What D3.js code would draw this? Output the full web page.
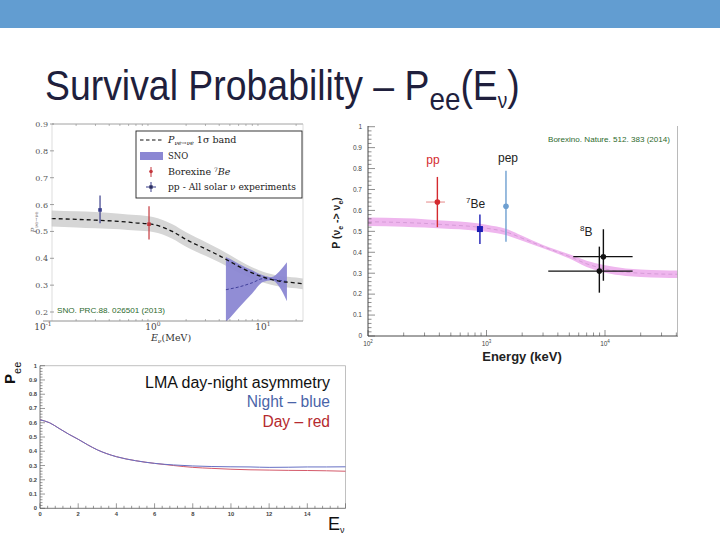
<!DOCTYPE html>
<html>
<head>
<meta charset="utf-8">
<script src="https://cdn.jsdelivr.net/npm/d3@7"></script>
<style>
body { margin: 0; background: #fff; }
svg { display: block; }
</style>
</head>
<body>
<script>
// ---- SNO panel (top left), energies in MeV ----
var bandE    = [0.12, 0.2, 0.3, 0.5, 0.7, 1, 1.5, 2, 3, 4, 5, 7, 10, 14, 20, 23];
var bandMid  = [0.548, 0.545, 0.542, 0.537, 0.532, 0.526, 0.500, 0.470, 0.435, 0.410, 0.388, 0.356, 0.330, 0.315, 0.308, 0.305];
var bandHalf = [0.030, 0.030, 0.030, 0.029, 0.029, 0.028, 0.027, 0.027, 0.026, 0.025, 0.024, 0.022, 0.020, 0.020, 0.020, 0.020];
var snoE      = [4.6, 5, 6, 8, 10, 12, 14, 16.5];
var snoUpper  = [0.405, 0.398, 0.380, 0.355, 0.337, 0.330, 0.350, 0.385];
var snoLower  = [0.163, 0.178, 0.215, 0.270, 0.312, 0.318, 0.295, 0.240];
var snoCenter = [0.283, 0.286, 0.293, 0.309, 0.324, 0.322, 0.318, 0.314];
var leftPoints = [
    { E: 0.33, P: 0.580, lo: 0.530, hi: 0.634, color: "#3b3f8c" },   // pp - all solar
    { E: 0.92, P: 0.527, lo: 0.470, hi: 0.594, color: "#c4373d" }    // Borexino 7Be
];
var leftYTicks = [0.2, 0.3, 0.4, 0.5, 0.6, 0.7, 0.8, 0.9];
var leftXTicks = [[0.1, "-1"], [1, "0"], [10, "1"]];

// ---- Borexino panel (top right), energies in keV ----
var pinkE    = [100, 200, 300, 500, 700, 1000, 1500, 2000, 3000, 5000, 7000, 10000, 15000, 20000, 30000, 41000];
var pinkMid  = [0.546, 0.542, 0.538, 0.530, 0.525, 0.515, 0.495, 0.467, 0.427, 0.380, 0.345, 0.320, 0.305, 0.300, 0.296, 0.295];
var pinkHalf = [0.020, 0.020, 0.020, 0.019, 0.018, 0.017, 0.015, 0.012, 0.008, 0.010, 0.015, 0.018, 0.018, 0.018, 0.018, 0.018];
var rightPoints = [
    { E: 385,  P: 0.640, lo: 0.520, hi: 0.760, xlo: 309,  xhi: 446,   color: "#d42a2f", xcolor: "#eba3a3", marker: "circle" },  // pp
    { E: 880,  P: 0.511, lo: 0.440, hi: 0.580, xlo: null, xhi: null,  color: "#1c1cb4", xcolor: null, marker: "square" },         // 7Be
    { E: 1460, P: 0.620, lo: 0.450, hi: 0.790, xlo: null, xhi: null,  color: "#6e9fd0", xcolor: null, marker: "circle" },         // pep
    { E: 8960, P: 0.310, lo: 0.207, hi: 0.427, xlo: 3320, xhi: 17100, color: "#111111", xcolor: "#111111", marker: "circle" },   // 8B
    { E: 9690, P: 0.379, lo: 0.264, hi: 0.510, xlo: 5400, xhi: 17100, color: "#111111", xcolor: "#111111", marker: "circle" }    // 8B
];
var rightYTicks = [0, 0.1, 0.2, 0.3, 0.4, 0.5, 0.6, 0.7, 0.8, 0.9, 1];
var rightYLabels = ["0", "0.1", "0.2", "0.3", "0.4", "0.5", "0.6", "0.7", "0.8", "0.9", "1"];
var rightXTicks = [[100, "2"], [1000, "3"], [10000, "4"]];

// ---- LMA day/night panel (bottom left), energies in MeV ----
var lmaE     = [0, 0.5, 1, 1.5, 2, 2.5, 3, 3.5, 4, 5, 6, 7, 8, 9, 10, 11, 12, 13, 14, 15, 16];
var lmaNight = [0.620, 0.600, 0.560, 0.520, 0.484, 0.445, 0.410, 0.383, 0.362, 0.334, 0.315, 0.304, 0.297, 0.293, 0.291, 0.290, 0.287, 0.288, 0.290, 0.290, 0.291];
var lmaDay   = [0.620, 0.600, 0.560, 0.520, 0.484, 0.445, 0.410, 0.383, 0.362, 0.334, 0.315, 0.300, 0.287, 0.280, 0.274, 0.270, 0.268, 0.266, 0.265, 0.263, 0.260];
var lmaYTicks = [0, 0.1, 0.2, 0.3, 0.4, 0.5, 0.6, 0.7, 0.8, 0.9, 1];
var lmaYLabels = ["0", "0.1", "0.2", "0.3", "0.4", "0.5", "0.6", "0.7", "0.8", "0.9", "1"];
var lmaXTicks = [0, 2, 4, 6, 8, 10, 12, 14];

var width = 720, height = 540;
var svg = d3.select("body").append("svg")
    .attr("width", width)
    .attr("height", height);

var SANS = "Liberation Sans, Arial, sans-serif";
var SERIF = "DejaVu Serif, Liberation Serif, serif";

// blue header bar
svg.append("rect").attr("x", 0).attr("y", 0).attr("width", width).attr("height", 28).attr("fill", "#629dd1");

// title
var title = svg.append("text")
    .attr("x", 0).attr("y", 100)
    .attr("font-family", SANS).attr("font-size", 43).attr("fill", "#1f1f3d");
title.append("tspan").text("Survival Probability – P");
title.append("tspan").attr("font-size", 32).attr("dy", 10).text("ee");
title.append("tspan").attr("dy", -10).text("(E");
title.append("tspan").attr("font-size", 22).attr("dy", 8).text("ν");
title.append("tspan").attr("dy", -8).text(")");
var tb = title.node().getBBox();
title.attr("transform", "translate(45,0) scale(" + (475 / tb.width) + ",1)");

// ================= SNO panel =================
var xL = d3.scaleLog().domain([0.1, 10]).range([43, 263]);
var yL = d3.scaleLinear().domain([0.2, 0.9]).range([312, 124]);
var gL = svg.append("g");

svg.append("clipPath").attr("id", "clipL")
    .append("rect").attr("x", 43).attr("y", 124).attr("width", 260).attr("height", 197);
var plotL = gL.append("g").attr("clip-path", "url(#clipL)");

var bandArea = d3.area()
    .x(function (d, i) { return xL(bandE[i]); })
    .y0(function (d, i) { return yL(bandMid[i] - bandHalf[i]); })
    .y1(function (d, i) { return yL(bandMid[i] + bandHalf[i]); })
    .curve(d3.curveMonotoneX);
plotL.append("path").datum(bandE).attr("d", bandArea).attr("fill", "#d6d6d6");

var snoArea = d3.area()
    .x(function (d, i) { return xL(snoE[i]); })
    .y0(function (d, i) { return yL(snoLower[i]); })
    .y1(function (d, i) { return yL(snoUpper[i]); })
    .curve(d3.curveMonotoneX);
plotL.append("path").datum(snoE).attr("d", snoArea).attr("fill", "#8b87d3").attr("fill-opacity", 0.95);

plotL.append("path").datum(snoE)
    .attr("d", d3.line().x(function (d, i) { return xL(snoE[i]); }).y(function (d, i) { return yL(snoCenter[i]); }).curve(d3.curveMonotoneX))
    .attr("fill", "none").attr("stroke", "#2c2c8c").attr("stroke-width", 0.8).attr("stroke-dasharray", "3,2");

plotL.append("path").datum(bandE)
    .attr("d", d3.line().x(function (d, i) { return xL(bandE[i]); }).y(function (d, i) { return yL(bandMid[i]); }).curve(d3.curveMonotoneX))
    .attr("fill", "none").attr("stroke", "#111").attr("stroke-width", 1.3).attr("stroke-dasharray", "4,3");

leftPoints.forEach(function (p) {
    plotL.append("line").attr("x1", xL(p.E)).attr("x2", xL(p.E)).attr("y1", yL(p.lo)).attr("y2", yL(p.hi))
        .attr("stroke", p.color).attr("stroke-width", 1.2);
    plotL.append("rect").attr("x", xL(p.E) - 1.8).attr("y", yL(p.P) - 1.8).attr("width", 3.6).attr("height", 3.6)
        .attr("fill", p.color);
});

// frame
gL.append("line").attr("x1", 52).attr("x2", 303).attr("y1", 124).attr("y2", 124).attr("stroke", "#8a8a8a").attr("stroke-width", 0.8);
gL.append("line").attr("x1", 52).attr("x2", 52).attr("y1", 124).attr("y2", 321).attr("stroke", "#c8c8c8").attr("stroke-width", 0.6);
gL.append("line").attr("x1", 303).attr("x2", 303).attr("y1", 124).attr("y2", 321).attr("stroke", "#c8c8c8").attr("stroke-width", 0.6);
gL.append("line").attr("x1", 43).attr("x2", 303).attr("y1", 321).attr("y2", 321).attr("stroke", "#777").attr("stroke-width", 0.8);

leftYTicks.forEach(function (v) {
    gL.append("line").attr("x1", 50).attr("x2", 54).attr("y1", yL(v)).attr("y2", yL(v)).attr("stroke", "#777").attr("stroke-width", 0.7);
    gL.append("text").attr("x", 48).attr("y", yL(v) + 3).attr("text-anchor", "end")
        .attr("font-family", SERIF).attr("font-size", 8).attr("fill", "#555").text(v.toFixed(1));
});
[0.2, 0.3, 0.4, 0.5, 0.6, 0.7, 0.8, 0.9, 2, 3, 4, 5, 6, 7, 8, 9, 20].forEach(function (v) {
    gL.append("line").attr("x1", xL(v)).attr("x2", xL(v)).attr("y1", 124).attr("y2", 126).attr("stroke", "#888").attr("stroke-width", 0.6);
    gL.append("line").attr("x1", xL(v)).attr("x2", xL(v)).attr("y1", 321).attr("y2", 319).attr("stroke", "#888").attr("stroke-width", 0.6);
});
leftXTicks.forEach(function (t) {
    var tx = gL.append("text").attr("x", xL(t[0])).attr("y", 330).attr("text-anchor", "middle")
        .attr("font-family", SERIF).attr("font-size", 9).attr("fill", "#444");
    tx.append("tspan").text("10");
    tx.append("tspan").attr("font-size", 6).attr("dy", -4).text(t[1]);
});
var xlab = gL.append("text").attr("x", 171).attr("y", 341).attr("text-anchor", "middle")
    .attr("font-family", SERIF).attr("font-size", 9.5).attr("fill", "#333");
xlab.append("tspan").attr("font-style", "italic").text("E");
xlab.append("tspan").attr("font-size", 6).attr("dy", 2).attr("font-style", "italic").text("ν");
xlab.append("tspan").attr("dy", -2).text("(MeV)");

var ylabL = gL.append("text").attr("transform", "translate(36,222) rotate(-90)").attr("text-anchor", "middle")
    .attr("font-family", SERIF).attr("font-size", 7).attr("fill", "#777");
ylabL.append("tspan").attr("font-style", "italic").text("P");
ylabL.append("tspan").attr("font-size", 5).attr("dy", 2).text("νe→νe");

gL.append("text").attr("x", 57).attr("y", 313).attr("font-family", SANS).attr("font-size", 8)
    .attr("fill", "#2d6a2d").attr("textLength", 108).attr("lengthAdjust", "spacingAndGlyphs")
    .text("SNO. PRC.88. 026501 (2013)");

// legend
var lg = gL.append("g");
lg.append("rect").attr("x", 136).attr("y", 131).attr("width", 166).attr("height", 67)
    .attr("fill", "#fff").attr("stroke", "#222").attr("stroke-width", 0.9);
lg.append("line").attr("x1", 140).attr("x2", 163).attr("y1", 140).attr("y2", 140)
    .attr("stroke", "#111").attr("stroke-width", 1.2).attr("stroke-dasharray", "3.5,2.5");
lg.append("rect").attr("x", 140).attr("y", 152).attr("width", 23).attr("height", 8).attr("fill", "#8b87d3");
lg.append("line").attr("x1", 151).attr("x2", 151).attr("y1", 167).attr("y2", 177).attr("stroke", "#c4373d").attr("stroke-width", 1);
lg.append("circle").attr("cx", 151).attr("cy", 171.5).attr("r", 1.8).attr("fill", "#c4373d");
lg.append("line").attr("x1", 151).attr("x2", 151).attr("y1", 182).attr("y2", 192).attr("stroke", "#3b3f8c").attr("stroke-width", 1);
lg.append("line").attr("x1", 146).attr("x2", 156).attr("y1", 187).attr("y2", 187).attr("stroke", "#3b3f8c").attr("stroke-width", 1);
lg.append("rect").attr("x", 149.3).attr("y", 185.3).attr("width", 3.4).attr("height", 3.4).attr("fill", "#2a2d60");

var legText = lg.append("g").attr("font-family", SERIF).attr("font-size", 9.5).attr("fill", "#222");
var l1 = legText.append("text").attr("x", 168).attr("y", 143);
l1.append("tspan").attr("font-style", "italic").text("P");
l1.append("tspan").attr("font-size", 6).attr("dy", 2).attr("font-style", "italic").text("νe→νe");
l1.append("tspan").attr("dy", -2).text(" 1σ band");
legText.append("text").attr("x", 168).attr("y", 159).attr("font-size", 8.5).text("SNO");
var l3 = legText.append("text").attr("x", 168).attr("y", 175);
l3.append("tspan").text("Borexine ");
l3.append("tspan").attr("font-size", 6).attr("dy", -3.5).text("7");
l3.append("tspan").attr("dy", 3.5).attr("font-style", "italic").text("Be");
legText.append("text").attr("x", 168).attr("y", 190).attr("font-size", 9)
    .attr("textLength", 128).attr("lengthAdjust", "spacingAndGlyphs").text("pp - All solar ν experiments");

// ================= Borexino panel =================
var xR = d3.scaleLog().domain([100, 10000]).range([368, 605]);
var yR = d3.scaleLinear().domain([0, 1]).range([336, 126.7]);
var gR = svg.append("g");

var pinkArea = d3.area()
    .x(function (d, i) { return xR(pinkE[i]); })
    .y0(function (d, i) { return yR(pinkMid[i] - pinkHalf[i]); })
    .y1(function (d, i) { return yR(pinkMid[i] + pinkHalf[i]); })
    .curve(d3.curveMonotoneX);
gR.append("path").datum(pinkE).attr("d", pinkArea).attr("fill", "#efb6ee");
gR.append("path").datum(pinkE)
    .attr("d", d3.line().x(function (d, i) { return xR(pinkE[i]); }).y(function (d, i) { return yR(pinkMid[i]); }).curve(d3.curveMonotoneX))
    .attr("fill", "none").attr("stroke", "#c58ac8").attr("stroke-width", 0.6).attr("stroke-dasharray", "4,3");

rightPoints.forEach(function (p) {
    if (p.xlo !== null) {
        gR.append("line").attr("x1", xR(p.xlo)).attr("x2", xR(p.xhi)).attr("y1", yR(p.P)).attr("y2", yR(p.P))
            .attr("stroke", p.xcolor).attr("stroke-width", 1.3);
    }
    gR.append("line").attr("x1", xR(p.E)).attr("x2", xR(p.E)).attr("y1", yR(p.lo)).attr("y2", yR(p.hi))
        .attr("stroke", p.color).attr("stroke-width", 1.4);
    if (p.marker === "square") {
        gR.append("rect").attr("x", xR(p.E) - 3).attr("y", yR(p.P) - 3).attr("width", 6).attr("height", 6).attr("fill", p.color);
    } else {
        gR.append("circle").attr("cx", xR(p.E)).attr("cy", yR(p.P)).attr("r", 2.8).attr("fill", p.color);
    }
});

// axes
gR.append("line").attr("x1", 368).attr("x2", 368).attr("y1", 126).attr("y2", 336).attr("stroke", "#333").attr("stroke-width", 0.9);
gR.append("line").attr("x1", 368).attr("x2", 678).attr("y1", 336).attr("y2", 336).attr("stroke", "#333").attr("stroke-width", 0.9);
gR.append("line").attr("x1", 677.5).attr("x2", 677.5).attr("y1", 126).attr("y2", 336).attr("stroke", "#a8a8a8").attr("stroke-width", 0.8);

d3.range(0, 1.0001, 0.02).forEach(function (v) {
    var major = Math.abs(v * 10 - Math.round(v * 10)) < 1e-6;
    gR.append("line").attr("x1", 368).attr("x2", 368 + (major ? 7 : 3.5)).attr("y1", yR(v)).attr("y2", yR(v))
        .attr("stroke", "#444").attr("stroke-width", 0.6);
});
rightYTicks.forEach(function (v, i) {
    gR.append("text").attr("x", 362).attr("y", yR(v) + 2.3).attr("text-anchor", "end")
        .attr("font-family", SANS).attr("font-size", 6.5).attr("fill", "#444").text(rightYLabels[i]);
});
[100, 200, 300, 400, 500, 600, 700, 800, 900, 1000, 2000, 3000, 4000, 5000, 6000, 7000, 8000, 9000, 10000, 20000, 30000, 40000].forEach(function (v) {
    var major = (v === 100 || v === 1000 || v === 10000);
    gR.append("line").attr("x1", xR(v)).attr("x2", xR(v)).attr("y1", 336).attr("y2", 336 - (major ? 6 : 3.5))
        .attr("stroke", "#444").attr("stroke-width", 0.6);
});
rightXTicks.forEach(function (t) {
    var tx = gR.append("text").attr("x", xR(t[0])).attr("y", 346).attr("text-anchor", "middle")
        .attr("font-family", SANS).attr("font-size", 6.5).attr("fill", "#444");
    tx.append("tspan").text("10");
    tx.append("tspan").attr("font-size", 4.5).attr("dy", -3).text(t[1]);
});
gR.append("text").attr("x", 522).attr("y", 361).attr("text-anchor", "middle")
    .attr("font-family", SANS).attr("font-size", 13).attr("font-weight", "bold").attr("fill", "#222")
    .text("Energy (keV)");
var ylabR = gR.append("text").attr("transform", "translate(340,223) rotate(-90)").attr("text-anchor", "middle")
    .attr("font-family", SANS).attr("font-size", 10.5).attr("font-weight", "bold").attr("fill", "#222");
ylabR.append("tspan").text("P (ν");
ylabR.append("tspan").attr("font-size", 7).attr("dy", 2.5).text("e");
ylabR.append("tspan").attr("dy", -2.5).text(" -> ν");
ylabR.append("tspan").attr("font-size", 7).attr("dy", 2.5).text("e");
ylabR.append("tspan").attr("dy", -2.5).text(")");

gR.append("text").attr("x", 548).attr("y", 142).attr("font-family", SANS).attr("font-size", 7.5)
    .attr("fill", "#2d6a2d").attr("textLength", 122).attr("lengthAdjust", "spacingAndGlyphs")
    .text("Borexino. Nature. 512. 383 (2014)");

gR.append("text").attr("x", 433).attr("y", 164).attr("text-anchor", "middle").attr("font-family", SANS)
    .attr("font-size", 12).attr("fill", "#d42a2f").text("pp");
gR.append("text").attr("x", 508).attr("y", 162).attr("text-anchor", "middle").attr("font-family", SANS)
    .attr("font-size", 12).attr("fill", "#222").text("pep");
var be = gR.append("text").attr("x", 466).attr("y", 208).attr("font-family", SANS).attr("font-size", 12).attr("fill", "#222");
be.append("tspan").attr("font-size", 8).attr("dy", -5).text("7");
be.append("tspan").attr("dy", 5).text("Be");
var b8 = gR.append("text").attr("x", 580).attr("y", 236).attr("font-family", SANS).attr("font-size", 12).attr("fill", "#222");
b8.append("tspan").attr("font-size", 8).attr("dy", -5).text("8");
b8.append("tspan").attr("dy", 5).text("B");

// ================= LMA day-night panel =================
var xB = d3.scaleLinear().domain([0, 16]).range([40, 345.5]);
var yB = d3.scaleLinear().domain([0, 1]).range([508.3, 365.7]);
var gB = svg.append("g");

gB.append("line").attr("x1", 40).attr("x2", 345.5).attr("y1", 365.7).attr("y2", 365.7).attr("stroke", "#b0b0b0").attr("stroke-width", 0.8);
gB.append("line").attr("x1", 345.5).attr("x2", 345.5).attr("y1", 365.7).attr("y2", 508.3).attr("stroke", "#b0b0b0").attr("stroke-width", 0.8);
gB.append("line").attr("x1", 40).attr("x2", 40).attr("y1", 365.7).attr("y2", 508.3).attr("stroke", "#555").attr("stroke-width", 0.8);
gB.append("line").attr("x1", 40).attr("x2", 345.5).attr("y1", 508.3).attr("y2", 508.3).attr("stroke", "#555").attr("stroke-width", 0.8);

d3.range(0, 1.0001, 0.02).forEach(function (v) {
    var major = Math.abs(v * 10 - Math.round(v * 10)) < 1e-6;
    gB.append("line").attr("x1", 40).attr("x2", 40 + (major ? 5 : 2.5)).attr("y1", yB(v)).attr("y2", yB(v))
        .attr("stroke", "#555").attr("stroke-width", 0.6);
});
lmaYTicks.forEach(function (v, i) {
    gB.append("text").attr("x", 37).attr("y", yB(v) + 2).attr("text-anchor", "end")
        .attr("font-family", SANS).attr("font-weight", "bold").attr("font-size", 5.8).attr("fill", "#444").text(lmaYLabels[i]);
});
d3.range(0, 16.001, 0.4).forEach(function (v) {
    var major = Math.abs(v / 2 - Math.round(v / 2)) < 1e-6;
    gB.append("line").attr("x1", xB(v)).attr("x2", xB(v)).attr("y1", 508.3).attr("y2", 508.3 - (major ? 5 : 2.5))
        .attr("stroke", "#555").attr("stroke-width", 0.6);
});
lmaXTicks.forEach(function (v) {
    gB.append("text").attr("x", xB(v)).attr("y", 516).attr("text-anchor", "middle")
        .attr("font-family", SANS).attr("font-weight", "bold").attr("font-size", 5.8).attr("fill", "#444").text(v);
});

var lmaLine = function (vals) {
    return d3.line().x(function (d, i) { return xB(lmaE[i]); }).y(function (d, i) { return yB(vals[i]); }).curve(d3.curveMonotoneX)(lmaE);
};
gB.append("path").attr("d", lmaLine(lmaDay)).attr("fill", "none").attr("stroke", "#d45a6a").attr("stroke-width", 1);
gB.append("path").attr("d", lmaLine(lmaNight)).attr("fill", "none").attr("stroke", "#6670c4").attr("stroke-width", 1);

gB.append("text").attr("x", 330).attr("y", 388).attr("text-anchor", "end").attr("font-family", SANS)
    .attr("font-size", 16).attr("fill", "#111").text("LMA day-night asymmetry");
gB.append("text").attr("x", 330).attr("y", 407).attr("text-anchor", "end").attr("font-family", SANS)
    .attr("font-size", 15.6).attr("fill", "#4a64a8").text("Night – blue");
gB.append("text").attr("x", 330).attr("y", 427).attr("text-anchor", "end").attr("font-family", SANS)
    .attr("font-size", 15.6).attr("fill", "#b52a2f").text("Day – red");

var pee = gB.append("text").attr("transform", "translate(15,384) rotate(-90)").attr("font-family", SANS)
    .attr("font-size", 15).attr("font-weight", "bold").attr("fill", "#111");
pee.append("tspan").text("P");
pee.append("tspan").attr("font-size", 11).attr("font-weight", "normal").attr("dy", 6).text("ee");

var ev = gB.append("text").attr("x", 328).attr("y", 530).attr("font-family", SANS).attr("font-size", 18).attr("fill", "#111");
ev.append("tspan").text("E");
ev.append("tspan").attr("font-size", 9).attr("dy", 3).text("ν");
</script>
</body>
</html>
